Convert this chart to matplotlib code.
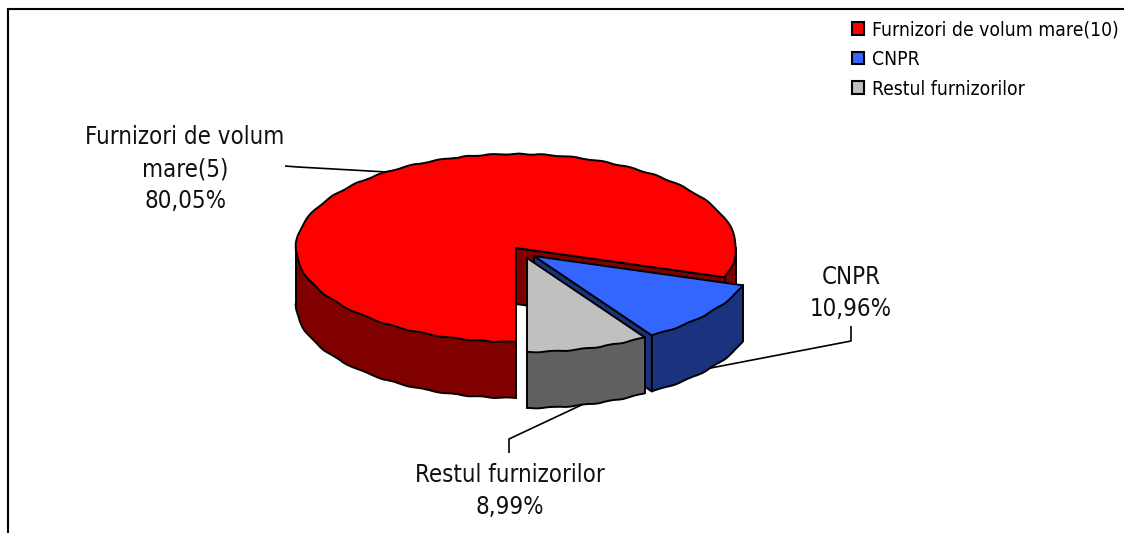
import numpy as np
import matplotlib
matplotlib.use("Agg")
import matplotlib.pyplot as plt
from matplotlib.patches import Patch, Rectangle

# data
categories = ["Furnizori de volum\nmare(5)", "CNPR", "Restul furnizorilor"]
values = [80.05, 10.96, 8.99]
value_labels = ["80,05%", "10,96%", "8,99%"]
legend_labels = ["Furnizori de volum mare(10)", "CNPR", "Restul furnizorilor"]

# style
top_colors = ["#FF0000", "#3366FF", "#C0C0C0"]
side_colors = ["#800000", "#1A337F", "#606060"]
centers = [(516, 248), (534, 256), (527, 258)]
RX, RY, DEPTH = 220, 94, 56
LW = 1.4
FONT = dict(family="DejaVu Sans", stretch="condensed")
SKETCH = (0.45, 30, 2)

fig = plt.figure(figsize=(11.24, 5.33), dpi=100)
ax = fig.add_axes([0, 0, 1, 1])
ax.set_xlim(0, 1124)
ax.set_ylim(533, 0)
ax.axis("off")

ax.add_patch(Rectangle((7.5, 8.5), 1130, 540, fc="white", ec="black", lw=1.5, zorder=0))

# leader lines
leaders = [([285, 298, 387], [166, 167, 172]),
           ([851, 851, 690], [326, 341, 372]),
           ([509, 509, 590], [453, 439, 401])]
for xs, ys in leaders:
    ax.plot(xs, ys, color="black", lw=1.2, zorder=1, solid_capstyle="butt")

# slice angles: clockwise from straight down (screen coordinates: y grows downward)
fractions = np.array(values) / sum(values) * 360.0
starts = 90.0 + np.concatenate([[0], np.cumsum(fractions)[:-1]])
ends = starts + fractions


def rim(c, a0, a1, n=200):
    t = np.radians(np.linspace(a0, a1, n))
    return c[0] + RX * np.cos(t), c[1] + RY * np.sin(t)


def line(xs, ys, z, wavy=False):
    ln, = ax.plot(xs, ys, color="black", lw=LW, zorder=z, solid_joinstyle="round",
                  solid_capstyle="round")
    if wavy:
        ln.set_sketch_params(*SKETCH)


def draw_outer_wall(i, z):
    """Wall under the rim, only where the rim faces the viewer (lower half of the ellipse)."""
    for a0, a1 in [(0, 180), (360, 540)]:
        lo, hi = max(starts[i], a0), min(ends[i], a1)
        if hi <= lo:
            continue
        x, y = rim(centers[i], lo, hi)
        ax.fill(np.r_[x, x[::-1]], np.r_[y, y[::-1] + DEPTH], fc=side_colors[i],
                ec="none", zorder=z)
        line(x, y + DEPTH, z, wavy=True)
        line([x[0], x[0]], [y[0], y[0] + DEPTH], z)
        line([x[-1], x[-1]], [y[-1], y[-1] + DEPTH], z)


def draw_cut_wall(i, angle, z):
    c = centers[i]
    x, y = rim(c, angle, angle, 1)
    ax.fill([c[0], x[0], x[0], c[0]], [c[1], y[0], y[0] + DEPTH, c[1] + DEPTH],
            fc=side_colors[i], ec="black", lw=LW, zorder=z, joinstyle="round")


def draw_top(i, z):
    c = centers[i]
    x, y = rim(c, starts[i], ends[i])
    ax.fill(np.r_[c[0], x], np.r_[c[1], y], fc=top_colors[i], ec="none", zorder=z)
    line(x, y, z, wavy=True)
    line([x[-1], c[0], x[0]], [y[-1], c[1], y[0]], z)


# red slice
draw_outer_wall(0, 2)
draw_cut_wall(0, ends[0], 3)
draw_top(0, 4)
# blue slice
draw_cut_wall(1, ends[1], 5)
draw_outer_wall(1, 6)
draw_top(1, 7)
# grey slice
draw_outer_wall(2, 8)
draw_top(2, 9)

# data labels
FS = 17.2
LS = 1.44
for (tx, ty), cat, val in zip([(185, 169), (851, 293), (510, 491)], categories, value_labels):
    ax.text(tx, ty, cat + "\n" + val, ha="center", va="center",
            fontsize=FS, linespacing=LS, color="#111111", **FONT)

# legend
handles = [Patch(fc=c, ec="black", lw=1.5) for c in top_colors]
ax.legend(handles, legend_labels, loc="upper left", bbox_to_anchor=(852, 20),
          bbox_transform=ax.transData, frameon=False, borderpad=0, borderaxespad=0,
          handlelength=0.63, handleheight=0.63, handletextpad=0.42, labelspacing=0.56,
          prop=dict(family="DejaVu Sans", stretch="condensed", size=13.85))

fig.savefig("out.png", dpi=100, facecolor="white")
